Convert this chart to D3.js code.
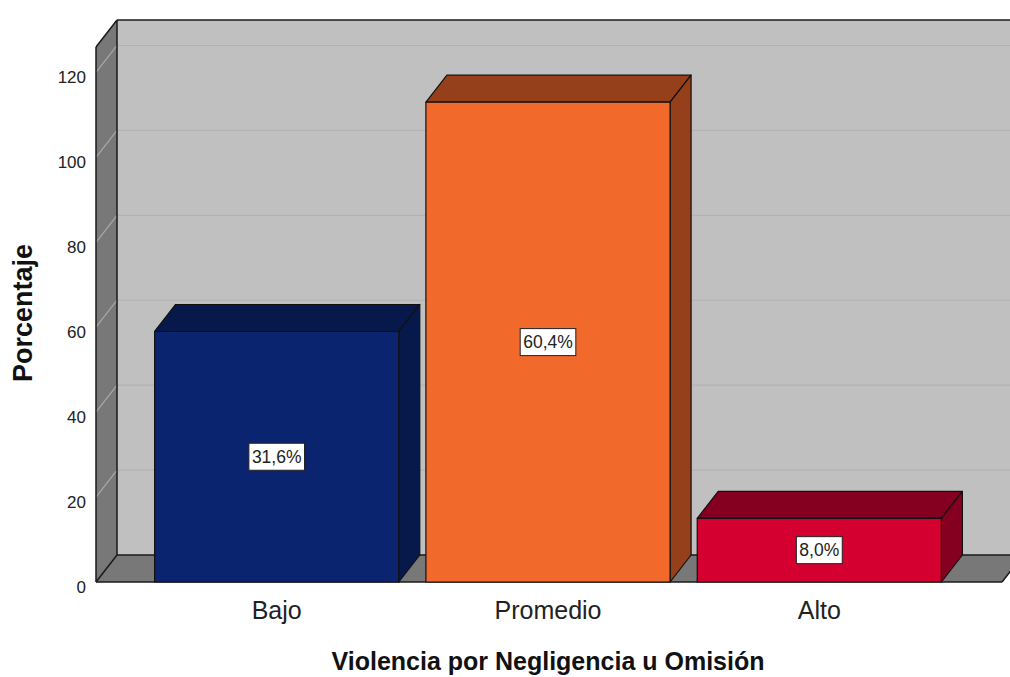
<!DOCTYPE html>
<html>
<head>
<meta charset="utf-8">
<script src="https://cdn.jsdelivr.net/npm/d3@7"></script>
<style>
  body { margin: 0; background: #fff; }
  svg { display: block; font-family: "Liberation Sans", Arial, sans-serif; }
</style>
</head>
<body>
<svg width="1010" height="677"></svg>
<script>
// data (counts, N ~ 187)
const categories = ["Bajo", "Promedio", "Alto"];
const counts = [59, 113, 15];
const pctLabels = ["31,6%", "60,4%", "8,0%"];
const yTicks = [0, 20, 40, 60, 80, 100, 120];

const frontColors = ["#0a246f", "#f2692c", "#d4002f"];
const sideColors = ["#06194a", "#953f1b", "#850020"];

const svg = d3.select("svg");

// depth of the 3D box
const dx = 21, dy = 27;

const x = d3.scaleBand()
  .domain(categories)
  .range([96, 1000])
  .paddingInner(0.1)
  .paddingOuter(0.216);

const y = d3.scaleLinear()
  .domain([0, 126])
  .range([582, 47]);

const x0 = x.range()[0], x1 = 1002;
const yTop = y.range()[1], yBot = y(0);
const line = d3.line();

// back wall
svg.append("rect")
  .attr("x", x0 + dx).attr("y", yTop - dy)
  .attr("width", 1010).attr("height", yBot - yTop)
  .attr("fill", "#c0c0c0");

// side wall
svg.append("path")
  .attr("d", line([[x0, yTop], [x0 + dx, yTop - dy], [x0 + dx, yBot - dy], [x0, yBot]]) + "Z")
  .attr("fill", "#787878");

// floor
svg.append("path")
  .attr("d", line([[x0, yBot], [x0 + dx, yBot - dy], [x1 + dx, yBot - dy], [x1, yBot]]) + "Z")
  .attr("fill", "#787878");

// gridlines
const grid = svg.append("g");
grid.selectAll("line.back")
  .data(yTicks.filter(d => d > 0))
  .join("line")
  .attr("x1", x0 + dx).attr("x2", 1010)
  .attr("y1", d => y(d) - dy).attr("y2", d => y(d) - dy)
  .attr("stroke", "#b2b2b2").attr("stroke-width", 1.2);
grid.selectAll("line.side")
  .data(yTicks.filter(d => d > 0))
  .join("line")
  .attr("x1", x0).attr("x2", x0 + dx)
  .attr("y1", d => y(d)).attr("y2", d => y(d) - dy)
  .attr("stroke", "#a8a8a8").attr("stroke-width", 1.2);

// frame edges
const edges = [
  [[x0, yTop], [x0, yBot]],
  [[x0, yTop], [x0 + dx, yTop - dy]],
  [[x0 + dx, yTop - dy], [1010, yTop - dy]],
  [[x0 + dx, yTop - dy], [x0 + dx, yBot - dy]],
  [[x0, yBot], [x0 + dx, yBot - dy]],
  [[x0 + dx, yBot - dy], [x1 + dx, yBot - dy]],
  [[x0, yBot], [x1, yBot]],
  [[x1, yBot], [x1 + dx, yBot - dy]]
];
svg.append("g")
  .selectAll("path")
  .data(edges)
  .join("path")
  .attr("d", d => line(d))
  .attr("stroke", "#1a1a1a")
  .attr("stroke-width", 1.5)
  .attr("fill", "none");

// bars
const bars = svg.append("g")
  .selectAll("g")
  .data(categories.map((c, i) => ({ c, v: counts[i], i })))
  .join("g")
  .attr("stroke", "#111")
  .attr("stroke-width", 1.2)
  .attr("stroke-linejoin", "round");

bars.append("path") // top
  .attr("fill", d => sideColors[d.i])
  .attr("d", d => {
    const l = x(d.c), r = l + x.bandwidth(), t = y(d.v);
    return line([[l, t], [l + dx, t - dy], [r + dx, t - dy], [r, t]]) + "Z";
  });
bars.append("path") // right side
  .attr("fill", d => sideColors[d.i])
  .attr("d", d => {
    const r = x(d.c) + x.bandwidth(), t = y(d.v);
    return line([[r, t], [r + dx, t - dy], [r + dx, yBot - dy], [r, yBot]]) + "Z";
  });
bars.append("rect") // front
  .attr("fill", d => frontColors[d.i])
  .attr("x", d => x(d.c))
  .attr("y", d => y(d.v))
  .attr("width", x.bandwidth())
  .attr("height", d => yBot - y(d.v));

// value labels
const labels = svg.append("g")
  .selectAll("g")
  .data(categories.map((c, i) => ({ c, v: counts[i], t: pctLabels[i] })))
  .join("g")
  .attr("transform", d => `translate(${x(d.c) + x.bandwidth() / 2},${(y(d.v) + yBot) / 2})`);
labels.append("text")
  .attr("text-anchor", "middle")
  .attr("dy", "0.36em")
  .attr("font-size", 17.5)
  .attr("fill", "#222")
  .text(d => d.t)
  .each(function () {
    const b = this.getBBox();
    d3.select(this.parentNode).insert("rect", "text")
      .attr("x", b.x - 3).attr("y", -13.5)
      .attr("width", b.width + 6).attr("height", 27)
      .attr("fill", "#fff")
      .attr("stroke", "#222");
  });

// y tick labels
svg.append("g")
  .selectAll("text")
  .data(yTicks)
  .join("text")
  .attr("x", 86)
  .attr("y", d => y(d) + 11)
  .attr("text-anchor", "end")
  .attr("font-size", 17)
  .attr("fill", "#222")
  .text(d => d);

// category labels
svg.append("g")
  .selectAll("text")
  .data(categories)
  .join("text")
  .attr("x", d => x(d) + x.bandwidth() / 2)
  .attr("y", 619)
  .attr("text-anchor", "middle")
  .attr("font-size", 25)
  .attr("fill", "#222")
  .text(d => d);

// axis titles
svg.append("text")
  .attr("x", 548).attr("y", 670)
  .attr("text-anchor", "middle")
  .attr("font-size", 25)
  .attr("font-weight", "bold")
  .attr("fill", "#111")
  .text("Violencia por Negligencia u Omisión");

svg.append("text")
  .attr("transform", "translate(32,313) rotate(-90)")
  .attr("text-anchor", "middle")
  .attr("font-size", 27)
  .attr("font-weight", "bold")
  .attr("fill", "#111")
  .text("Porcentaje");
</script>
</body>
</html>
